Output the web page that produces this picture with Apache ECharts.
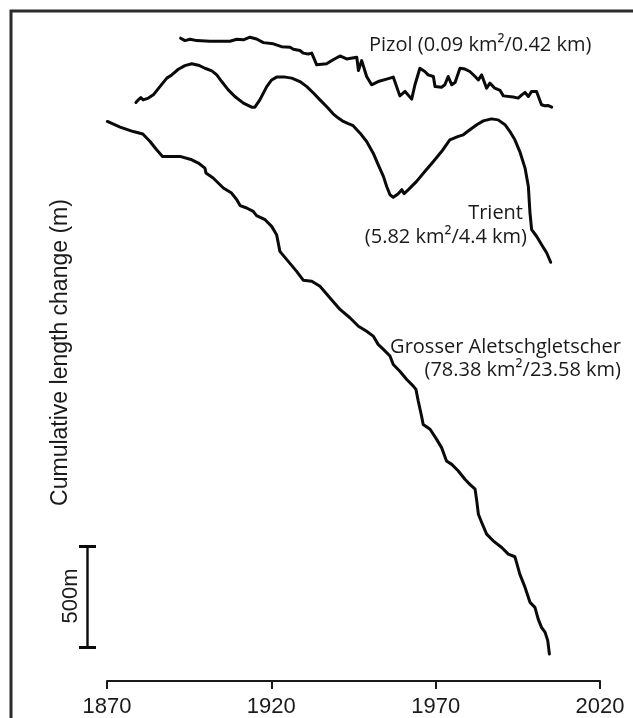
<!DOCTYPE html>
<html>
<head>
<meta charset="utf-8">
<title>Cumulative length change of three Swiss glaciers</title>
<script src="https://cdn.jsdelivr.net/npm/echarts@6/dist/echarts.min.js"></script>
<style>
  html, body { margin: 0; padding: 0; background: #fff; }
  #chart { width: 633px; height: 718px; }
</style>
</head>
<body>
<div id="chart"></div>
<script>
// Year axis ticks
const yearTicks = [1870, 1920, 1970, 2020];

// Pizol: cumulative length change (m) since first survey
const pizolYears = [1892.4, 1893.7, 1895.3, 1897.3, 1901.3, 1907.4, 1909.5, 1911.5, 1913.5, 1915.5,
  1917.6, 1920.6, 1923.1, 1925.7, 1926.7, 1928.7, 1929.7, 1931.2, 1932.3, 1933.8,
  1936.8, 1938.8, 1940.9, 1942.9, 1946.0, 1946.5, 1947.5, 1949.0, 1950.5, 1952.5,
  1955.1, 1957.1, 1959.1, 1960.7, 1962.7, 1963.7, 1965.2, 1966.7, 1967.7, 1969.3,
  1969.8, 1971.8, 1972.8, 1973.8, 1974.9, 1975.9, 1977.4, 1978.9, 1980.4, 1982.0,
  1983.0, 1984.0, 1985.5, 1986.5, 1988.0, 1989.6, 1990.6, 1993.6, 1995.1, 1996.2,
  1997.2, 1998.2, 1999.2, 2000.7, 2002.2, 2003.2, 2004.3, 2005.3];
const pizolChange = [0, -12, -5, -12, -15, -15, -5, -8, 5, -4,
  -22, -28, -42, -45, -55, -61, -74, -78, -74, -132,
  -127, -107, -88, -103, -94, -160, -111, -190, -231, -215,
  -203, -193, -286, -264, -302, -231, -149, -165, -182, -190,
  -240, -243, -231, -190, -231, -220, -149, -153, -165, -190,
  -207, -182, -248, -223, -248, -259, -286, -292, -297, -281,
  -269, -289, -264, -264, -330, -335, -334, -342];

// Trient
const trientYears = [1878.8, 1879.5, 1880.3, 1881.0, 1882.6, 1884.1, 1886.1, 1888.2, 1889.7, 1891.7,
  1893.7, 1895.8, 1897.8, 1899.8, 1901.9, 1903.4, 1904.9, 1906.9, 1908.9, 1911.5,
  1914.0, 1915.0, 1916.5, 1918.6, 1920.1, 1921.6, 1924.2, 1926.2, 1928.7, 1930.8,
  1932.8, 1934.8, 1936.8, 1938.8, 1940.4, 1941.9, 1943.4, 1944.9, 1947.0, 1949.0,
  1951.0, 1952.5, 1954.1, 1955.1, 1956.1, 1957.1, 1958.6, 1959.7, 1960.4, 1961.7,
  1964.2, 1966.7, 1969.3, 1971.8, 1974.3, 1976.9, 1978.4, 1980.4, 1982.5, 1984.5,
  1987.0, 1989.0, 1991.1, 1992.6, 1994.1, 1995.6, 1997.2, 1998.2, 1998.7, 1999.2,
  2000.7, 2002.2, 2003.8, 2005.0];
const trientChange = [0, 13, 25, 13, 22, 38, 79, 121, 137, 165,
  183, 192, 185, 170, 157, 137, 104, 63, 30, -3,
  -23, -23, 13, 79, 112, 126, 126, 121, 104, 79,
  47, 13, -20, -56, -77, -94, -105, -115, -152, -193,
  -251, -308, -366, -416, -457, -470, -452, -432, -452, -432,
  -391, -342, -292, -243, -185, -168, -160, -135, -110, -91,
  -81, -86, -110, -144, -185, -243, -325, -416, -548, -630,
  -663, -704, -746, -792];

// Grosser Aletschgletscher
const aletschYears = [1870.1, 1874.0, 1878.0, 1880.9, 1883.1, 1885.1, 1886.9, 1892.2, 1895.8, 1897.8,
  1899.8, 1900.1, 1902.3, 1905.4, 1907.9, 1909.5, 1910.5, 1912.5, 1914.5, 1915.5,
  1918.1, 1920.1, 1921.6, 1922.1, 1922.6, 1924.7, 1927.7, 1929.7, 1932.3, 1934.8,
  1937.8, 1940.9, 1943.9, 1946.5, 1949.0, 1951.0, 1952.5, 1954.1, 1956.1, 1957.1,
  1959.1, 1961.2, 1963.2, 1964.0, 1964.7, 1965.7, 1966.2, 1968.3, 1970.3, 1971.8,
  1973.3, 1974.9, 1976.9, 1978.9, 1980.4, 1982.0, 1982.5, 1983.0, 1984.0, 1985.5,
  1987.5, 1990.1, 1992.1, 1994.1, 1994.6, 1995.6, 1997.2, 1998.7, 2000.2, 2001.2,
  2002.2, 2003.3, 2004.1, 2004.6];
const aletschChange = [0, -28, -50, -62, -99, -140, -173, -173, -190, -206,
  -231, -255, -280, -330, -355, -388, -417, -429, -446, -467,
  -487, -520, -561, -602, -644, -685, -743, -787, -792, -817,
  -874, -932, -973, -1015, -1040, -1064, -1105, -1130, -1163, -1205,
  -1238, -1279, -1312, -1328, -1386, -1460, -1502, -1526, -1576, -1617,
  -1683, -1700, -1733, -1774, -1799, -1823, -1881, -1947, -1988, -2046,
  -2079, -2112, -2145, -2158, -2186, -2244, -2310, -2384, -2409, -2467,
  -2508, -2533, -2574, -2640];

// Length of the vertical scale bar (m)
const scaleBar = [0, 500];

// Vertical offsets that stack the three records in one panel (m)
const stackOffset = { pizol: 3187, trient: 2868, aletsch: 2774 };

function toPoints(years, change, offset) {
  return years.map((y, i) => [y, change[i] + offset]);
}

const ink = '#0a0a0a';
const textColor = '#1a1a1a';
const labelFont = '"Open Sans", "Noto Sans", sans-serif';
const axisFont = '"Liberation Sans", Arial, sans-serif';

const chart = echarts.init(document.getElementById('chart'), null, { renderer: 'canvas' });

const curveStyle = { color: ink, width: 3, cap: 'round', join: 'round' };

const option = {
  backgroundColor: '#fff',
  animation: false,
  grid: [
    { left: 107, right: 33, top: 15.4, bottom: 36 },
    { left: 79, width: 17, top: 546.5, height: 101 }
  ],
  xAxis: [
    {
      type: 'value', gridIndex: 0,
      min: yearTicks[0], max: yearTicks[yearTicks.length - 1],
      interval: yearTicks[1] - yearTicks[0],
      splitLine: { show: false },
      axisLine: { show: true, lineStyle: { color: '#1a1a1a', width: 2 } },
      axisTick: { show: true, inside: false, length: 8, lineStyle: { color: '#1a1a1a', width: 2 } },
      axisLabel: { color: textColor, fontFamily: axisFont, fontSize: 22, margin: 15,
                   formatter: (v) => String(v) }
    },
    { type: 'value', gridIndex: 1, min: 0, max: 1, show: false }
  ],
  yAxis: [
    { type: 'value', gridIndex: 0, min: 0, max: 3300, show: false },
    { type: 'value', gridIndex: 1, min: scaleBar[0], max: scaleBar[1], show: false }
  ],
  series: [
    {
      name: 'Pizol', type: 'line', xAxisIndex: 0, yAxisIndex: 0,
      data: toPoints(pizolYears, pizolChange, stackOffset.pizol),
      showSymbol: false, lineStyle: curveStyle, clip: false
    },
    {
      name: 'Trient', type: 'line', xAxisIndex: 0, yAxisIndex: 0,
      data: toPoints(trientYears, trientChange, stackOffset.trient),
      showSymbol: false, lineStyle: curveStyle, clip: false
    },
    {
      name: 'Grosser Aletschgletscher', type: 'line', xAxisIndex: 0, yAxisIndex: 0,
      data: toPoints(aletschYears, aletschChange, stackOffset.aletsch),
      showSymbol: false, lineStyle: curveStyle, clip: false
    },
    {
      name: 'scale', type: 'line', xAxisIndex: 1, yAxisIndex: 1,
      data: [[0.5, scaleBar[0]], [0.5, scaleBar[1]]],
      showSymbol: false, clip: false, lineStyle: { color: ink, width: 2.4 }
    },
    {
      name: 'scale-cap-low', type: 'line', xAxisIndex: 1, yAxisIndex: 1,
      data: [[0, scaleBar[0]], [1, scaleBar[0]]],
      showSymbol: false, clip: false, lineStyle: { color: ink, width: 3.2 }
    },
    {
      name: 'scale-cap-high', type: 'line', xAxisIndex: 1, yAxisIndex: 1,
      data: [[0, scaleBar[1]], [1, scaleBar[1]]],
      showSymbol: false, clip: false, lineStyle: { color: ink, width: 3.2 }
    }
  ],
  graphic: [
    // panel frame
    { type: 'rect', silent: true, shape: { x: 11, y: 11, width: 700, height: 800 },
      style: { fill: 'none', stroke: '#2b2b2b', lineWidth: 3 } },
    // y-axis title
    { type: 'text', x: 61, y: 352.5, rotation: Math.PI / 2,
      style: { text: 'Cumulative length change (m)', fill: textColor, font: '23px ' + axisFont,
               align: 'center', verticalAlign: 'middle' } },
    // scale bar label
    { type: 'text', x: 70.5, y: 596, rotation: Math.PI / 2,
      style: { text: '500m', fill: textColor, font: '22px ' + axisFont,
               align: 'center', verticalAlign: 'middle' } },
    // glacier labels
    { type: 'text', x: 369, y: 45,
      style: { text: 'Pizol (0.09 km²/0.42 km)', fill: textColor, font: '20px ' + labelFont,
               align: 'left', verticalAlign: 'middle' } },
    { type: 'text', x: 523, y: 213,
      style: { text: 'Trient', fill: textColor, font: '20px ' + labelFont,
               align: 'right', verticalAlign: 'middle' } },
    { type: 'text', x: 527, y: 237,
      style: { text: '(5.82 km²/4.4 km)', fill: textColor, font: '20px ' + labelFont,
               align: 'right', verticalAlign: 'middle' } },
    { type: 'text', x: 621, y: 347,
      style: { text: 'Grosser Aletschgletscher', fill: textColor, font: '20px ' + labelFont,
               align: 'right', verticalAlign: 'middle' } },
    { type: 'text', x: 621, y: 370,
      style: { text: '(78.38 km²/23.58 km)', fill: textColor, font: '20px ' + labelFont,
               align: 'right', verticalAlign: 'middle' } }
  ]
};

chart.setOption(option);
</script>
</body>
</html>
